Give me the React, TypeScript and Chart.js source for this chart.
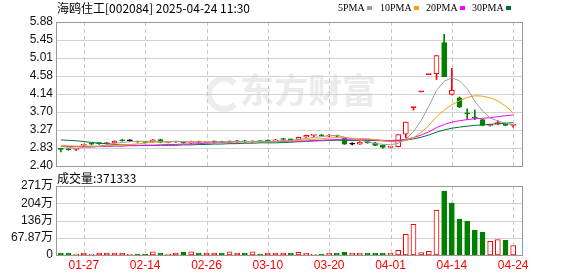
import React, { useEffect, useRef } from 'react';
import { Chart, registerables } from 'chart.js';

Chart.register(...registerables);

const title = '海鸥住工[002084] 2025-04-24 11:30';
const volTitle = '成交量:371333';
const watermark = '东方财富';

const dates = [
  '01-22','01-23','01-24','01-27','02-05','02-06','02-07','02-10','02-11','02-12',
  '02-13','02-14','02-17','02-18','02-19','02-20','02-21','02-24','02-25','02-26',
  '02-27','02-28','03-03','03-04','03-05','03-06','03-07','03-10','03-11','03-12',
  '03-13','03-14','03-17','03-18','03-19','03-20','03-21','03-24','03-25','03-26',
  '03-27','03-28','03-31','04-01','04-02','04-03','04-07','04-08','04-09','04-10',
  '04-11','04-14','04-15','04-16','04-17','04-18','04-21','04-22','04-23','04-24',
];
const xTickLabels = ['01-27','02-14','02-26','03-10','03-20','04-01','04-14','04-24'];

const priorClose = 2.83;
const opens = [
  2.81,2.81,2.80,2.90,2.94,2.95,2.94,2.96,3.03,3.01,
  2.99,2.98,2.98,3.04,2.97,2.98,2.98,2.95,2.99,2.97,
  2.98,2.99,2.97,2.98,3.01,2.98,3.00,3.01,3.00,3.05,
  3.04,3.04,3.10,3.14,3.15,3.12,3.14,3.07,2.93,2.93,
  2.99,2.96,2.90,2.85,2.87,3.17,3.81,4.19,4.61,4.63,
  5.38,4.13,4.05,3.67,3.57,3.52,3.38,3.41,3.43,3.38,
];
const highs = [
  2.82,2.82,2.81,2.93,2.95,2.96,2.97,3.01,3.04,3.03,
  3.00,2.99,3.04,3.05,2.99,3.00,2.99,3.00,3.00,2.99,
  3.00,3.00,3.01,3.02,3.02,3.01,3.01,3.03,3.04,3.06,
  3.05,3.10,3.15,3.15,3.16,3.16,3.15,3.09,2.96,2.99,
  3.00,2.97,2.91,2.88,3.16,3.46,3.81,4.19,4.61,5.07,
  5.58,4.76,4.07,3.78,3.75,3.53,3.40,3.49,3.44,3.40,
];
const lows = [
  2.74,2.78,2.77,2.86,2.91,2.92,2.93,2.95,3.00,3.00,
  2.97,2.96,2.97,2.96,2.96,2.97,2.95,2.94,2.96,2.96,
  2.96,2.96,2.96,2.97,2.97,2.97,2.98,2.99,2.99,3.02,
  3.02,3.03,3.09,3.11,3.12,3.11,3.10,2.92,2.91,2.92,
  2.95,2.89,2.83,2.84,2.86,3.08,3.75,4.19,4.61,4.49,
  4.56,4.12,3.81,3.53,3.52,3.37,3.36,3.40,3.37,3.34,
];
const closes = [
  2.80,2.79,2.81,2.92,2.93,2.94,2.96,3.00,3.01,3.01,
  2.98,2.97,3.03,2.97,2.98,2.99,2.96,2.99,2.97,2.98,
  2.98,2.97,3.00,3.01,2.98,3.00,2.99,3.00,3.03,3.04,
  3.03,3.09,3.14,3.15,3.13,3.15,3.12,2.93,2.93,2.98,
  2.96,2.90,2.85,2.87,3.16,3.46,3.81,4.19,4.61,5.07,
  4.56,4.23,3.82,3.66,3.56,3.38,3.39,3.45,3.38,3.39,
];
const volumes = [
  80000,80000,40000,80000,40000,80000,80000,80000,80000,40000,
  40000,40000,126000,80000,40000,80000,110000,126000,80000,80000,
  80000,80000,120000,80000,80000,120000,40000,80000,80000,80000,
  66000,105000,66000,26000,26000,66000,66000,105000,66000,66000,
  66000,66000,66000,66000,184000,816000,1210000,92000,145000,1760000,
  2515000,2040000,1410000,1330000,974000,895000,540000,606000,580000,371333,
];

const ma5 = [
  2.88,2.85,2.83,2.85,2.85,2.878,2.912,2.95,2.968,2.986,
  2.994,2.996,3.002,2.994,2.986,2.988,2.986,2.978,2.978,2.978,
  2.978,2.982,2.984,2.992,2.992,2.994,2.996,2.996,3.00,3.012,
  3.018,3.038,3.066,3.09,3.108,3.132,3.138,3.096,3.054,3.024,
  2.986,2.942,2.926,2.912,2.948,3.048,3.23,3.498,3.846,4.228,
  4.448,4.532,4.458,4.268,3.966,3.73,3.562,3.488,3.432,3.398,
];
const ma10 = [
  2.90,2.89,2.88,2.88,2.88,2.88,2.89,2.90,2.91,2.918,
  2.936,2.954,2.976,2.981,2.986,2.991,2.991,2.99,2.986,2.982,
  2.983,2.984,2.981,2.985,2.985,2.986,2.989,2.99,2.996,3.002,
  3.006,3.017,3.031,3.045,3.06,3.075,3.088,3.081,3.072,3.066,
  3.059,3.04,3.011,2.983,2.986,3.017,3.086,3.212,3.379,3.588,
  3.748,3.881,3.978,4.057,4.097,4.089,4.047,3.973,3.85,3.682,
];
const ma20 = [
  2.87,2.87,2.87,2.87,2.87,2.87,2.87,2.88,2.88,2.89,
  2.89,2.90,2.90,2.91,2.92,2.92,2.93,2.93,2.94,2.95,
  2.96,2.969,2.979,2.983,2.986,2.989,2.99,2.99,2.991,2.992,
  2.995,3.001,3.006,3.015,3.023,3.031,3.039,3.036,3.034,3.034,
  3.033,3.029,3.021,3.014,3.023,3.046,3.087,3.147,3.226,3.327,
  3.404,3.461,3.495,3.52,3.542,3.553,3.567,3.593,3.615,3.635,
];
const ma30 = [
  3.03,3.02,3.01,2.99,2.97,2.95,2.94,2.92,2.91,2.91,
  2.90,2.90,2.90,2.90,2.90,2.90,2.91,2.91,2.92,2.92,
  2.93,2.93,2.94,2.94,2.95,2.95,2.96,2.96,2.96,2.967,
  2.975,2.985,2.996,3.004,3.011,3.018,3.023,3.021,3.018,3.017,
  3.016,3.014,3.008,3.004,3.01,3.026,3.054,3.095,3.149,3.219,
  3.271,3.313,3.34,3.362,3.381,3.394,3.407,3.422,3.434,3.445,
];

const priceTickValues = [2.40, 2.835, 3.27, 3.705, 4.14, 4.575, 5.01, 5.445, 5.88];
const priceTickLabels = ['2.40','2.83','3.27','3.70','4.14','4.58','5.01','5.45','5.88'];
const volTickValues = [0, 678700, 1357400, 2036100, 2714800];
const volTickLabels = ['0','67.87万','136万','204万','271万'];

const maLabels = ['5PMA','10PMA','20PMA','30PMA'];
const maColors = ['#9e9e9e','#f2a20c','#ff00ff','#00703a'];
const legendLefts = [338, 380, 426, 472];

const RED = '#ff0000';
const GREEN = '#008000';
const BLACK = '#000000';
const AXIS_FONT = '"Liberation Sans", "Noto Sans CJK SC", sans-serif';

function prevClose(i: number) { return i === 0 ? priorClose : closes[i - 1]; }
function candleColor(i: number) {
  const o = opens[i], c = closes[i];
  if (c > o) return RED;
  if (c < o) return GREEN;
  const p = prevClose(i);
  return c > p ? RED : c < p ? GREEN : BLACK;
}
function candleFill(i: number) { return closes[i] > opens[i] ? '#ffffff' : candleColor(i); }
function volUp(i: number) { return closes[i] >= prevClose(i); }

function framePlugin(tickValues: number[], drawDateLabels: boolean) {
  const EXTRA = 5;
  return {
    id: 'frameGrid',
    beforeDatasetsDraw(chart: any) {
      const { ctx, chartArea: a, scales } = chart;
      const x = scales.x, y = scales.y;
      const left = Math.round(a.left) - 0.5;
      const right = Math.round(a.right) + EXTRA + 0.5;
      ctx.save();
      ctx.lineWidth = 1;
      ctx.strokeStyle = '#d2d2d2';
      tickValues.forEach((v) => {
        const py = Math.round(y.getPixelForValue(v)) + 0.5;
        ctx.beginPath(); ctx.moveTo(left, py); ctx.lineTo(right, py); ctx.stroke();
      });
      ctx.strokeStyle = '#c8c8c8';
      ctx.setLineDash([4, 3]);
      xTickLabels.forEach((lbl) => {
        const idx = dates.indexOf(lbl);
        const px = Math.round(x.getPixelForValue(idx)) + 0.5;
        ctx.beginPath(); ctx.moveTo(px, a.top); ctx.lineTo(px, a.bottom); ctx.stroke();
      });
      ctx.restore();
    },
    afterDatasetsDraw(chart: any) {
      const { ctx, chartArea: a, scales } = chart;
      const left = Math.round(a.left) - 0.5;
      const right = Math.round(a.right) + EXTRA + 0.5;
      const top = Math.round(a.top) + 0.5;
      const bottom = Math.round(a.bottom) + 0.5;
      ctx.save();
      ctx.lineWidth = 1;
      ctx.strokeStyle = '#999999';
      ctx.strokeRect(left, top, right - left, bottom - top);
      if (drawDateLabels) {
        ctx.fillStyle = RED;
        ctx.font = '12px ' + AXIS_FONT;
        ctx.textAlign = 'center';
        ctx.textBaseline = 'middle';
        xTickLabels.forEach((lbl) => {
          const idx = dates.indexOf(lbl);
          ctx.fillText(lbl, scales.x.getPixelForValue(idx), a.bottom + 11);
        });
      }
      ctx.restore();
    },
  };
}

export default function App() {
  const mainRef = useRef<HTMLCanvasElement>(null);
  const volRef = useRef<HTMLCanvasElement>(null);

  useEffect(() => {
    const maData = [ma5, ma10, ma20, ma30];
    const lineSets = maData.map((d, k) => ({
      type: 'line' as const,
      label: maLabels[k],
      data: d,
      borderColor: maColors[k],
      borderWidth: 1,
      pointRadius: 0,
      tension: 0,
      fill: false,
      order: k,
    }));
    const main = new Chart(mainRef.current as HTMLCanvasElement, {
      type: 'bar',
      data: {
        labels: dates,
        datasets: [
          ...lineSets,
          {
            type: 'bar',
            label: 'body',
            data: dates.map((_, i) => [Math.min(opens[i], closes[i]), Math.max(opens[i], closes[i])]),
            backgroundColor: dates.map((_, i) => candleFill(i)),
            borderColor: dates.map((_, i) => candleColor(i)),
            borderWidth: 1,
            borderSkipped: false,
            barThickness: 5,
            minBarLength: 1,
            grouped: false,
            order: 10,
          } as any,
          {
            type: 'bar',
            label: 'wick',
            data: dates.map((_, i) => [lows[i], highs[i]]),
            backgroundColor: dates.map((_, i) => candleColor(i)),
            borderWidth: 0,
            barThickness: 1,
            grouped: false,
            order: 11,
          } as any,
        ],
      },
      options: {
        responsive: false,
        animation: false,
        events: [],
        layout: { padding: { top: 22, right: 61, bottom: 110, left: 0 } },
        plugins: { legend: { display: false }, tooltip: { enabled: false } },
        scales: {
          x: { type: 'category', display: false, offset: true, grid: { display: false } },
          y: {
            position: 'left',
            min: 2.40,
            max: 5.88,
            afterBuildTicks: (s: any) => { s.ticks = priceTickValues.map((v) => ({ value: v })); },
            afterFit: (s: any) => { s.width = 57; },
            grid: { display: false, drawTicks: false },
            border: { display: false },
            ticks: {
              autoSkip: false,
              padding: 4,
              color: '#111',
              font: { family: AXIS_FONT, size: 12 },
              callback: (_v: any, i: number) => priceTickLabels[i],
            },
          },
        },
      } as any,
      plugins: [framePlugin(priceTickValues, false)],
    });

    const vol = new Chart(volRef.current as HTMLCanvasElement, {
      type: 'bar',
      data: {
        labels: dates,
        datasets: [
          {
            label: 'volume',
            data: volumes,
            backgroundColor: dates.map((_, i) => (volUp(i) ? '#ffffff' : GREEN)),
            borderColor: dates.map((_, i) => (volUp(i) ? RED : GREEN)),
            borderWidth: 1,
            borderSkipped: false,
            barThickness: 5,
          } as any,
        ],
      },
      options: {
        responsive: false,
        animation: false,
        events: [],
        layout: { padding: { top: 186, right: 61, bottom: 0, left: 0 } },
        plugins: { legend: { display: false }, tooltip: { enabled: false } },
        scales: {
          x: {
            type: 'category',
            offset: true,
            grid: { display: false, drawTicks: false },
            border: { display: false },
            afterFit: (s: any) => { s.height = 21; },
            ticks: { display: false },
          },
          y: {
            position: 'left',
            min: 0,
            max: volTickValues[volTickValues.length - 1],
            afterBuildTicks: (s: any) => { s.ticks = volTickValues.map((v) => ({ value: v })); },
            afterFit: (s: any) => { s.width = 57; },
            grid: { display: false, drawTicks: false },
            border: { display: false },
            ticks: {
              autoSkip: false,
              padding: 4,
              color: '#111',
              font: { family: AXIS_FONT, size: 12 },
              callback: (_v: any, i: number) => volTickLabels[i],
            },
          },
        },
      } as any,
      plugins: [framePlugin(volTickValues, true)],
    });

    return () => {
      main.destroy();
      vol.destroy();
    };
  }, []);

  const cjk = '"Noto Sans CJK SC", "Liberation Sans", sans-serif';

  return (
    <div style={{ position: 'absolute', left: 0, top: 0, width: 578, height: 276, background: '#ffffff', overflow: 'hidden' }}>
      <div style={{ position: 'absolute', left: 206, top: 76, width: 24, height: 24, border: '6px solid #ededed', borderRadius: '50%', borderRightColor: 'transparent' }} />
      <div style={{ position: 'absolute', left: 240, top: 66, fontFamily: cjk, fontSize: 34, fontWeight: 700, color: '#ebebeb', lineHeight: '46px', whiteSpace: 'nowrap' }}>{watermark}</div>
      <canvas ref={mainRef} width={578} height={276} style={{ position: 'absolute', left: 0, top: 0 }} />
      <canvas ref={volRef} width={578} height={276} style={{ position: 'absolute', left: 0, top: 0 }} />
      <div style={{ position: 'absolute', left: 57, top: 0, fontFamily: cjk, fontSize: 12, lineHeight: '15px', color: '#000', whiteSpace: 'nowrap' }}>{title}</div>
      {maLabels.map((lbl, k) => (
        <div key={lbl} style={{ position: 'absolute', left: legendLefts[k], top: 2, display: 'flex', alignItems: 'center', fontFamily: '"Liberation Serif", serif', fontSize: 10, lineHeight: '12px', color: '#000', whiteSpace: 'nowrap' }}>
          <span>{lbl}</span>
          <span style={{ display: 'inline-block', width: 5, height: 4, marginLeft: 2, background: maColors[k] }} />
        </div>
      ))}
      <div style={{ position: 'absolute', left: 57, top: 170, fontFamily: cjk, fontSize: 12, lineHeight: '15px', color: '#000', whiteSpace: 'nowrap' }}>{volTitle}</div>
    </div>
  );
}
